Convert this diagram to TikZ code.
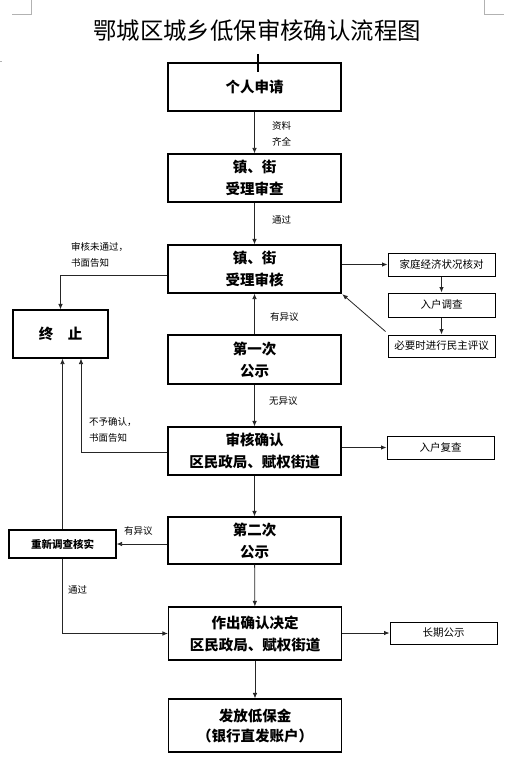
\documentclass[tikz,border=0pt]{standalone}
\usepackage{fontspec}
\setmainfont{Noto Sans CJK SC}
\usetikzlibrary{arrows.meta,calc}
\begin{document}
\begin{tikzpicture}[x=1pt,y=-1pt,
  mainbox/.style={draw=black,line width=1.1pt,minimum width=173pt,inner sep=0pt,align=center,font=\fontsize{14.5}{22}\selectfont\bfseries},
  sidebox/.style={draw=black,line width=1pt,minimum width=107pt,inner sep=0pt,align=center,font=\fontsize{10.5}{12}\selectfont},
  lbl/.style={inner sep=0pt,align=left,font=\fontsize{9.5}{16}\selectfont},
  arr/.style={draw=black!85,line width=0.8pt,-{Latex[length=5.5pt,width=4.5pt]}},
  pagemark/.style={draw=black!30,line width=0.6pt}
]
\useasboundingbox (0,0) rectangle (514,770);
% page corner marks
\draw[pagemark] (31,0) -- (31,14) -- (12,14);
\draw[pagemark] (484,0) -- (484,14) -- (504,14);
\draw[pagemark] (0,61) -- (2,61);
% title
\node[inner sep=0pt,font=\fontsize{23.4}{24}\selectfont] (title) at (257,31) {鄂城区城乡低保审核确认流程图};
% main column
\node[mainbox,minimum height=48pt] (b1) at (254.5,87) {个人申请};
\node[mainbox,minimum height=48pt] (b2) at (254.5,178) {镇、街\\受理审查};
\node[mainbox,minimum height=48pt] (b3) at (254.5,269) {镇、街\\受理审核};
\node[mainbox,minimum height=49pt] (b4) at (254.5,359.5) {第一次\\公示};
\node[mainbox,minimum height=48pt] (b5) at (254.5,451) {审核确认\\区民政局、赋权街道};
\node[mainbox,minimum height=47pt] (b6) at (254.5,540.5) {第二次\\公示};
\node[mainbox,minimum height=53pt] (b7) at (255,633.5) {作出确认决定\\区民政局、赋权街道};
\node[mainbox,minimum height=53pt,font=\fontsize{14.5}{20}\selectfont\bfseries] (b8) at (255,725.5) {发放低保金\\（银行直发账户）};
% left column
\node[mainbox,minimum width=95pt,minimum height=48pt] (stop) at (60.5,334) {终\hspace{1em}止};
\node[mainbox,minimum width=107pt,minimum height=28pt,font=\fontsize{10.5}{12}\selectfont\bfseries] (redo) at (62.5,544) {重新调查核实};
% right column
\node[sidebox,minimum height=23pt] (home) at (441.5,264.5) {家庭经济状况核对};
\node[sidebox,minimum height=24pt] (visit) at (441.5,305) {入户调查};
\node[sidebox,minimum height=22pt] (eval) at (441.5,346) {必要时进行民主评议};
\node[sidebox,minimum height=23pt] (recheck) at (440.5,447.5) {入户复查};
\node[sidebox,minimum height=22pt] (long) at (443.5,633) {长期公示};
% cursor mark
\coordinate (cur) at (258,54);
\draw[line width=1.8pt] (cur) -- ($(cur)+(0,18)$);
% connectors
\draw[arr] (b1) -- (b2);
\draw[arr] (b2) -- (b3);
\draw[arr] ([yshift=-6pt]b3.west) -| (stop.north);
\draw[arr] (b3.east |- home.west) -- (home.west);
\draw[arr] (home) -- (visit);
\draw[arr] (visit) -- (eval);
\draw[arr,shorten >=1pt] ([xshift=-2pt,yshift=3pt]eval.north west) -- (b3.south east);
\draw[arr] (b4) -- (b3);
\draw[arr] (b4) -- (b5);
\draw[arr] ([yshift=-1pt]b5.west) -| ([xshift=20.5pt]stop.south);
\draw[arr] (redo.north) -- (redo.north |- stop.south);
\draw[arr] (b5.east |- recheck.west) -- (recheck.west);
\draw[arr] (b5) -- (b6);
\draw[arr] (b6.west |- redo.east) -- (redo.east);
\draw[arr] (redo.south) |- (b7.west);
\draw[arr] (b6) -- (b7);
\draw[arr] (b7.east |- long.west) -- (long.west);
\draw[arr] (b7) -- (b8);
% labels
\node[lbl,anchor=west] (l1) at (272,133.5) {资料\\齐全};
\node[lbl,anchor=west] (l2) at (272,220) {通过};
\node[lbl,anchor=west] (l3) at (71,255) {审核未通过，\\书面告知};
\node[lbl,anchor=west] (l4) at (270,317) {有异议};
\node[lbl,anchor=west] (l5) at (269,401) {无异议};
\node[lbl,anchor=west] (l6) at (89,430) {不予确认，\\书面告知};
\node[lbl,anchor=west] (l7) at (124,531) {有异议};
\node[lbl,anchor=west] (l8) at (68,590) {通过};
\end{tikzpicture}
\end{document}
